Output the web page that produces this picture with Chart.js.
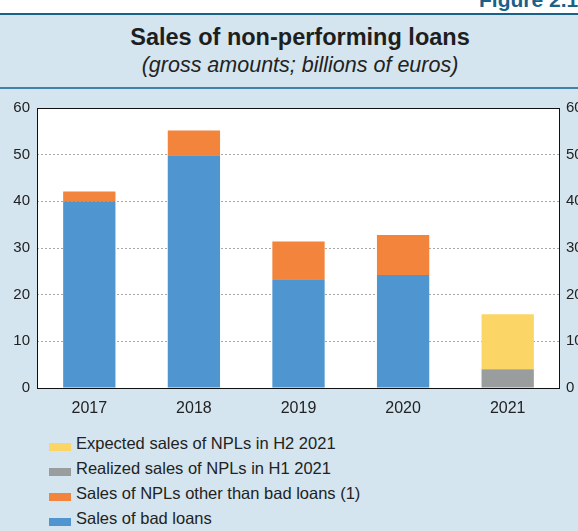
<!DOCTYPE html>
<html>
<head>
<meta charset="utf-8">
<script src="https://cdn.jsdelivr.net/npm/chart.js@4.4.1/dist/chart.umd.min.js"></script>
<style>
  html, body { margin: 0; padding: 0; background: #fff; overflow: hidden; }
  #wrap { position: relative; width: 578px; height: 531px; overflow: hidden; font-family: "Liberation Sans", Arial, Helvetica, sans-serif; }
  #fig { position: absolute; left: 479px; top: -12px; font-size: 21px; font-weight: bold; color: #1a6189; white-space: nowrap; }
  #panel { position: absolute; left: 0; top: 13px; width: 578px; height: 518px; background: #d4e5ef; border-top: 2px solid #1a6189; }
  #sep { position: absolute; left: 0; top: 87px; width: 578px; height: 2px; background: #3d84a8; }
  #title { position: absolute; left: 11px; width: 578px; top: 24px; text-align: center; font-size: 23.5px; font-weight: bold; color: #1e1e1e; white-space: nowrap; }
  #subtitle { position: absolute; left: 11px; width: 578px; top: 53px; text-align: center; font-size: 21.5px; font-style: italic; color: #222; white-space: nowrap; }
  #chartBox { position: absolute; left: 0; top: 88px; width: 578px; height: 330px; }
  .lg-box { position: absolute; left: 49px; width: 22px; height: 8px; }
  .lg-text { position: absolute; left: 76px; font-size: 16.5px; line-height: 19px; color: #222; white-space: nowrap; }
</style>
</head>
<body>
<div id="wrap">
  <div id="fig">Figure 2.1</div>
  <div id="panel"></div>
  <div id="sep"></div>
  <div id="title">Sales of non-performing loans</div>
  <div id="subtitle">(gross amounts; billions of euros)</div>
  <div id="chartBox"><canvas id="npl" width="578" height="330"></canvas></div>
  <div id="legend"></div>
</div>
<script>
const years = ['2017', '2018', '2019', '2020', '2021'];
const badLoans = [40, 49.9, 23.3, 24.2, null];
const otherNpls = [2.1, 5.3, 8.1, 8.6, null];
const realizedH1 = [null, null, null, null, 4.0];
const expectedH2 = [null, null, null, null, 11.8];
const yTicks = [0, 10, 20, 30, 40, 50, 60];

const FONT = '"Liberation Sans", Arial, Helvetica, sans-serif';

// white plot area plus black frame around it
const plotFrame = {
  id: 'plotFrame',
  beforeDraw(chart) {
    const a = chart.chartArea, ctx = chart.ctx;
    ctx.save();
    ctx.fillStyle = '#ffffff';
    ctx.fillRect(a.left, a.top, a.right - a.left, a.bottom - a.top);
    ctx.restore();
  },
  afterDraw(chart) {
    const a = chart.chartArea, ctx = chart.ctx;
    ctx.save();
    ctx.strokeStyle = '#111';
    ctx.lineWidth = 1;
    ctx.strokeRect(a.left + 0.5, a.top + 0.5, a.right - a.left - 1, a.bottom - a.top);
    ctx.restore();
  }
};

const tickFont = { family: FONT, size: 15 };

const config = {
  type: 'bar',
  data: {
    labels: years,
    datasets: [
      { label: 'Expected sales of NPLs in H2 2021', data: expectedH2, backgroundColor: '#fcd567', order: 4 },
      { label: 'Realized sales of NPLs in H1 2021', data: realizedH1, backgroundColor: '#9a9d9d', order: 3 },
      { label: 'Sales of NPLs other than bad loans (1)', data: otherNpls, backgroundColor: '#f2843c', order: 2 },
      { label: 'Sales of bad loans', data: badLoans, backgroundColor: '#4f96d0', order: 1 }
    ]
  },
  options: {
    responsive: false,
    animation: false,
    layout: { padding: { top: 20, left: 0, right: 0, bottom: 0 } },
    datasets: { bar: { categoryPercentage: 1, barPercentage: 0.5, borderWidth: 0 } },
    plugins: { legend: { display: false }, tooltip: { enabled: false } },
    scales: {
      x: {
        stacked: true,
        grid: { display: false, drawTicks: false },
        border: { display: false },
        ticks: { color: '#222', font: { family: FONT, size: 16 }, padding: 11 },
        afterFit(s) { s.height = 30; }
      },
      y: {
        stacked: true,
        min: 0, max: 60,
        afterBuildTicks(s) { s.ticks = yTicks.map(v => ({ value: v })); },
        grid: {
          drawTicks: false,
          color: ctx => (ctx.tick.value === 0 || ctx.tick.value === 60) ? 'rgba(0,0,0,0)' : '#a8a8a8'
        },
        border: { display: false, dash: [2, 2] },
        ticks: { color: '#222', font: tickFont, padding: 7 },
        afterFit(s) { s.width = 37; }
      },
      y2: {
        position: 'right',
        min: 0, max: 60,
        afterBuildTicks(s) { s.ticks = yTicks.map(v => ({ value: v })); },
        grid: { display: false, drawTicks: false },
        border: { display: false },
        ticks: { color: '#222', font: tickFont, padding: 6 },
        afterFit(s) { s.width = 18; }
      }
    }
  },
  plugins: [plotFrame]
};

const chart = new Chart(document.getElementById('npl').getContext('2d'), config);

// legend rows, listed top to bottom in dataset order
const legend = document.getElementById('legend');
chart.data.datasets.forEach((ds, i) => {
  const top = Math.round(434 + i * 24.9);
  const box = document.createElement('div');
  box.className = 'lg-box';
  box.style.top = (top + 9) + 'px';
  box.style.background = ds.backgroundColor;
  const txt = document.createElement('div');
  txt.className = 'lg-text';
  txt.style.top = top + 'px';
  txt.textContent = ds.label;
  legend.appendChild(box);
  legend.appendChild(txt);
});
</script>
</body>
</html>
